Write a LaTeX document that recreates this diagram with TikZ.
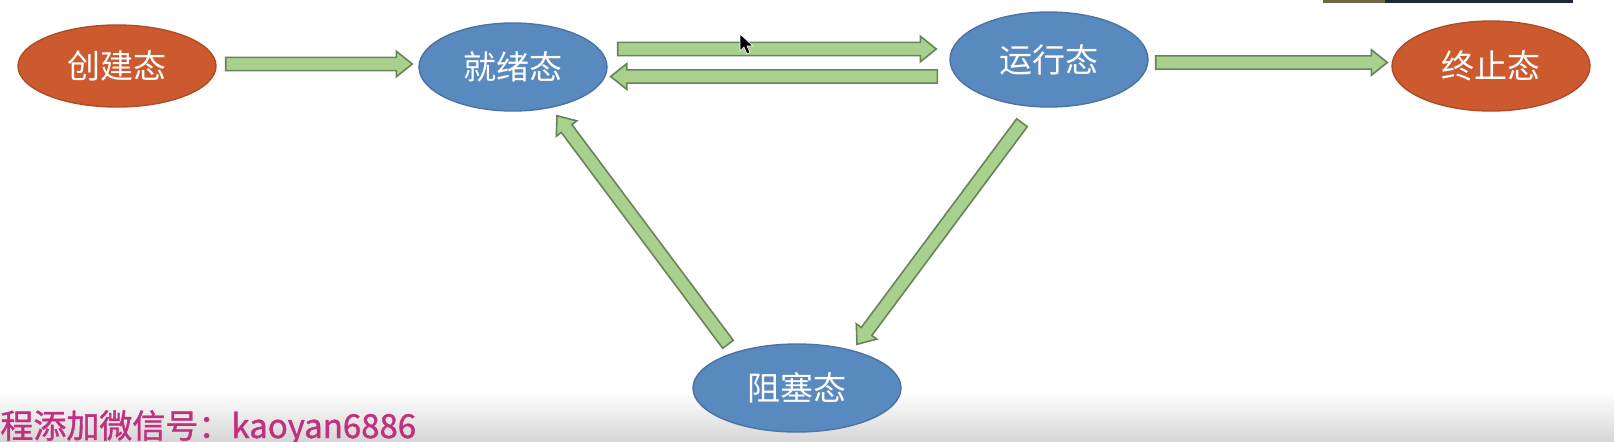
\documentclass[tikz,border=0pt]{standalone}
\usepackage{fontspec}
\usepackage{tikz}
\usetikzlibrary{shapes.geometric,calc}
\usepackage{xcolor}
\newfontfamily\cjk{Noto Sans CJK SC}
\newfontfamily\markfont[FakeBold=1.2]{Noto Sans CJK SC}
\definecolor{EndOrange}{HTML}{CC5A2E}
\definecolor{MidBlue}{HTML}{5889BF}
\definecolor{ArrowFill}{HTML}{A9D18E}
\definecolor{ArrowEdge}{HTML}{67845B}
\definecolor{MarkPink}{HTML}{C0307F}
\definecolor{BarNavy}{HTML}{1F2838}
\definecolor{BarOlive}{HTML}{6E6A48}

\begin{document}
\begin{tikzpicture}[x=0.5pt,y=-0.5pt,
  pstate/.style={ellipse,inner sep=0pt,line width=0.7pt,text=white,
    font=\cjk\fontsize{16.5}{18}\selectfont},
  endstate/.style={pstate,fill=EndOrange,draw=EndOrange!85!black},
  midstate/.style={pstate,fill=MidBlue,draw=MidBlue!85!black},
  blockarrow/.style={draw=ArrowEdge,fill=ArrowFill,line width=0.8pt,
    to path={let \p1=(\tikztostart),\p2=(\tikztotarget),
      \n1={atan2(\y2-\y1,\x2-\x1)},\n2={veclen(\x2-\x1,\y2-\y1)} in
      ([shift={(\p1)},rotate=\n1]0pt,-3.3pt)
      -- ([shift={(\p1)},rotate=\n1]\n2-8pt,-3.3pt)
      -- ([shift={(\p1)},rotate=\n1]\n2-8pt,-6.4pt)
      -- ([shift={(\p1)},rotate=\n1]\n2+0pt,0pt)
      -- ([shift={(\p1)},rotate=\n1]\n2-8pt,6.4pt)
      -- ([shift={(\p1)},rotate=\n1]\n2-8pt,3.3pt)
      -- ([shift={(\p1)},rotate=\n1]0pt,3.3pt) -- cycle}}]
\fill[white] (0,0) rectangle (1614,441);
\shade[top color=white,bottom color=black!16] (0,392) rectangle (1614,441);
\useasboundingbox (0,0) rectangle (1614,441);
\fill[BarOlive] (1323,0) rectangle (1385,3);
\fill[BarNavy] (1385,0) rectangle (1573,3);
\node[endstate,minimum width=99pt,minimum height=41pt] (create) at (117,66) {创建态};
\node[midstate,minimum width=94pt,minimum height=44pt] (ready) at (513,67) {就绪态};
\node[midstate,minimum width=99pt,minimum height=47.5pt] (run) at (1049,59.5) {运行态};
\node[endstate,minimum width=99pt,minimum height=45pt] (exit) at (1491,66) {终止态};
\node[midstate,minimum width=104pt,minimum height=44pt] (blocked) at (797,388) {阻塞态};
\draw[blockarrow] ([shift={(9,-2)}]create.east) to ([shift={(-6,-3)}]ready.west);
\draw[blockarrow] ([shift={(10,-18)}]ready.east) to ([shift={(-13,-10.5)}]run.west);
\draw[blockarrow] ([shift={(-12,17)}]run.west) to ([shift={(3,9.5)}]ready.east);
\draw[blockarrow] ([shift={(7,3)}]run.east) to ([shift={(-4,-3.5)}]exit.west);
\draw[blockarrow] ([shift={(-27,15)}]run.south) to ([shift={(60,1)}]blocked.north);
\draw[blockarrow] ([shift={(-69,1)}]blocked.north) to ([shift={(44,4)}]ready.south);
\filldraw[black,draw=white,line width=0.3pt] (740,34) -- ++(0,17) -- ++(4,-4) -- ++(3,7)
  -- ++(3,-1.5) -- ++(-3,-6.5) -- ++(6,0) -- cycle;
\node[anchor=base west,inner sep=0pt,text=MarkPink,font=\markfont\fontsize{16.5}{18}\selectfont]
  (mark) at (0,438) {程添加微信号：kaoyan6886};
\end{tikzpicture}
\end{document}
